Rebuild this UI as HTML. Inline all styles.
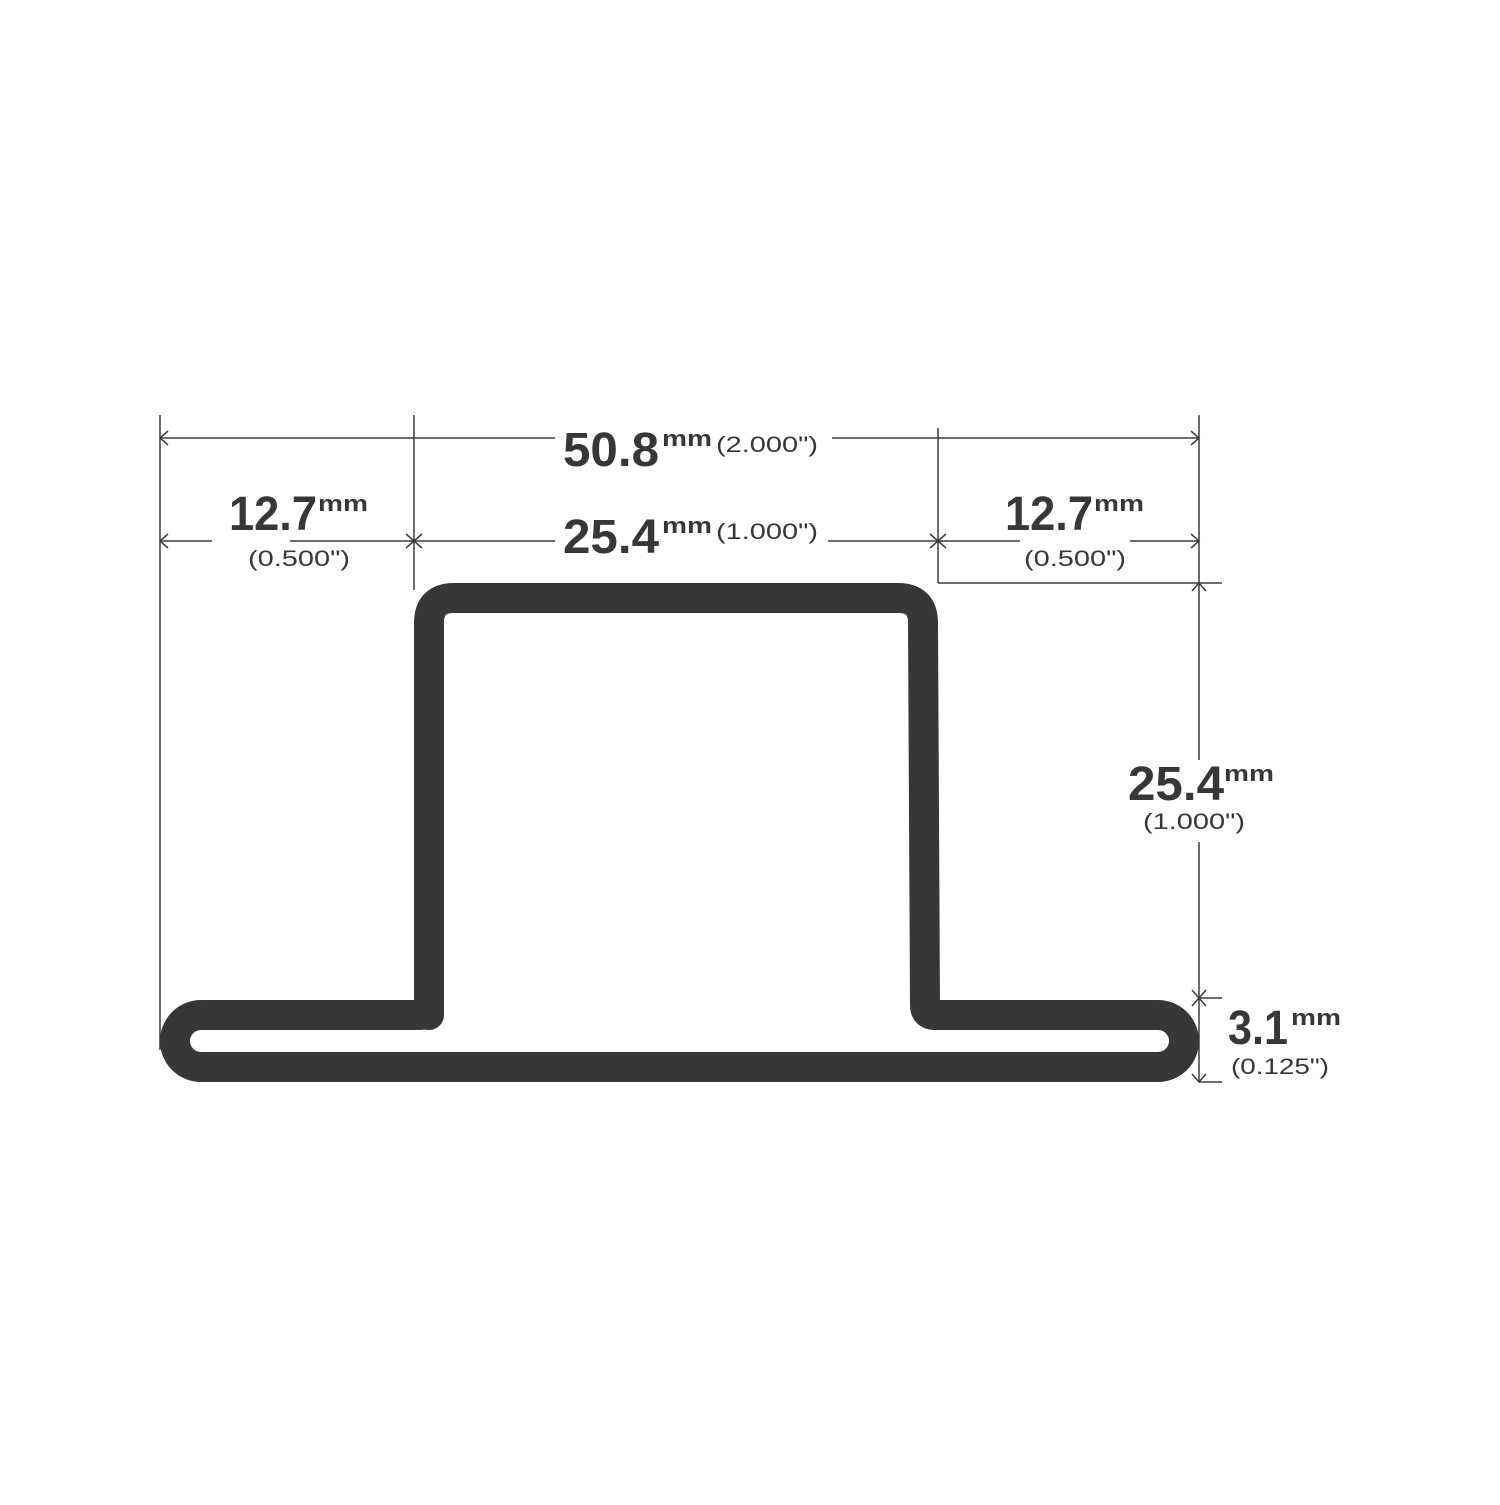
<!DOCTYPE html>
<html><head><style>html,body{margin:0;padding:0;background:#fff}</style></head>
<body>
<svg width="1500" height="1500" viewBox="0 0 1500 1500" xmlns="http://www.w3.org/2000/svg" font-family="Liberation Sans, sans-serif">
<rect width="1500" height="1500" fill="#fff"/>
<g stroke="#3f3d3c" stroke-width="1.5" fill="none">
  <line x1="160" y1="415" x2="160" y2="1050"/>
  <line x1="414" y1="415" x2="414" y2="590"/>
  <line x1="938" y1="428" x2="938" y2="583"/>
  <line x1="1199" y1="415" x2="1199" y2="1000"/>
  <line x1="160" y1="438" x2="555" y2="438"/>
  <line x1="832" y1="438" x2="1199" y2="438"/>
  <line x1="160" y1="541" x2="212" y2="541"/>
  <line x1="290" y1="541" x2="414" y2="541"/>
  <line x1="414" y1="541" x2="555" y2="541"/>
  <line x1="828" y1="541" x2="938" y2="541"/>
  <line x1="938" y1="541" x2="1020" y2="541"/>
  <line x1="1130" y1="541" x2="1199" y2="541"/>
  <line x1="938" y1="583" x2="1222" y2="583"/>
  <line x1="1199" y1="998" x2="1222" y2="998"/>
  <line x1="1199" y1="1082" x2="1222" y2="1082"/>
  <line x1="1199" y1="998" x2="1199" y2="1082"/>
  <path d="M168 431 L160 438 L168 445 M1191 431 L1199 438 L1191 445"/>
  <path d="M168 534 L160 541 L168 548 M406 534 L414 541 L406 548 M422 534 L414 541 L422 548"/>
  <path d="M930 534 L938 541 L930 548 M946 534 L938 541 L946 548 M1191 534 L1199 541 L1191 548"/>
  <path d="M1192 591 L1199 583 L1206 591 M1192 990 L1199 998 L1206 990"/>
  <path d="M1192 1006 L1199 998 L1206 1006 M1192 1074 L1199 1082 L1206 1074"/>
</g>
<rect x="1120" y="760" width="160" height="82" fill="#fff"/>
<path d="M429 1015 L429 623 Q429 598 454 598 L898 598 Q923 598 923 623 L925 1005 Q925 1015 935 1015 L1158 1015 A26 26 0 0 1 1158 1067 L201 1067 A26 26 0 0 1 201 1015 L419 1015 Q429 1015 429 1005 Z" fill="none" stroke="#393736" stroke-width="30" stroke-linejoin="round"/>
<g fill="#393736">
  <text x="563" y="466" font-size="48" font-weight="bold" textLength="96" lengthAdjust="spacingAndGlyphs">50.8</text>
  <text x="662" y="446" font-size="22" font-weight="bold" textLength="50" lengthAdjust="spacingAndGlyphs">mm</text>
  <text x="716" y="452" font-size="22" textLength="102" lengthAdjust="spacingAndGlyphs">(2.000")</text>

  <text x="563" y="553" font-size="48" font-weight="bold" textLength="96" lengthAdjust="spacingAndGlyphs">25.4</text>
  <text x="662" y="533" font-size="22" font-weight="bold" textLength="50" lengthAdjust="spacingAndGlyphs">mm</text>
  <text x="716" y="539" font-size="22" textLength="102" lengthAdjust="spacingAndGlyphs">(1.000")</text>

  <text x="229" y="530" font-size="48" font-weight="bold" textLength="88" lengthAdjust="spacingAndGlyphs">12.7</text>
  <text x="318" y="511" font-size="22" font-weight="bold" textLength="50" lengthAdjust="spacingAndGlyphs">mm</text>
  <text x="248" y="566" font-size="22" textLength="102" lengthAdjust="spacingAndGlyphs">(0.500")</text>

  <text x="1005" y="530" font-size="48" font-weight="bold" textLength="88" lengthAdjust="spacingAndGlyphs">12.7</text>
  <text x="1094" y="511" font-size="22" font-weight="bold" textLength="50" lengthAdjust="spacingAndGlyphs">mm</text>
  <text x="1024" y="566" font-size="22" textLength="102" lengthAdjust="spacingAndGlyphs">(0.500")</text>

  <text x="1128" y="800" font-size="48" font-weight="bold" textLength="96" lengthAdjust="spacingAndGlyphs">25.4</text>
  <text x="1224" y="781" font-size="22" font-weight="bold" textLength="50" lengthAdjust="spacingAndGlyphs">mm</text>
  <text x="1143" y="829" font-size="22" textLength="102" lengthAdjust="spacingAndGlyphs">(1.000")</text>

  <text x="1228" y="1044" font-size="48" font-weight="bold" textLength="60" lengthAdjust="spacingAndGlyphs">3.1</text>
  <text x="1291" y="1025" font-size="22" font-weight="bold" textLength="50" lengthAdjust="spacingAndGlyphs">mm</text>
  <text x="1231" y="1074" font-size="22" textLength="98" lengthAdjust="spacingAndGlyphs">(0.125")</text>
</g>
</svg>
</body></html>
